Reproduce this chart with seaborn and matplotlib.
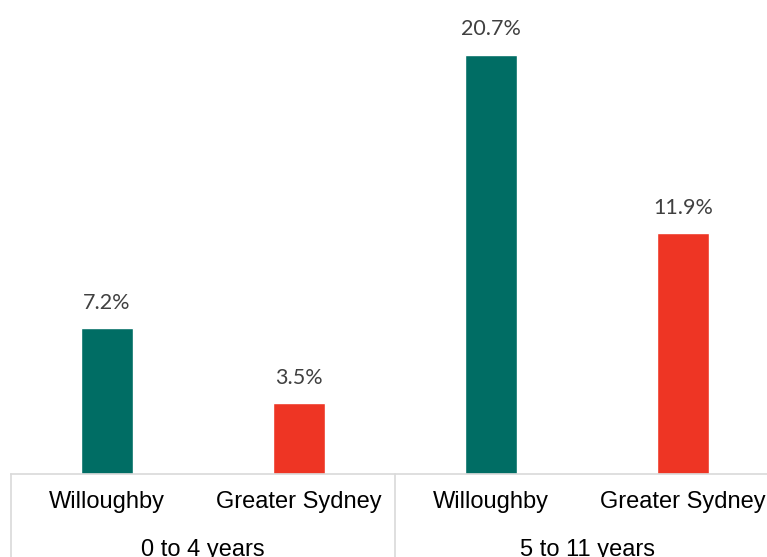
import pandas as pd
import matplotlib.pyplot as plt
import seaborn as sb

# Datos del grafico
grupos = ["0 to 4 years", "0 to 4 years", "5 to 11 years", "5 to 11 years"]
areas = ["Willoughby", "Greater Sydney", "Willoughby", "Greater Sydney"]
valores = [7.2, 3.5, 20.7, 11.9]
colores = {"Willoughby": "#006d64", "Greater Sydney": "#ee3524"}

df = pd.DataFrame({"grupo": grupos, "area": areas, "valor": valores})
df["slot"] = [f"{g} | {a}" for g, a in zip(grupos, areas)]

sb.set_style("white")
fig = plt.figure(figsize=(7.67, 5.57), dpi=100)
ax = fig.add_axes([11 / 767, 83 / 557, 768 / 767, 474 / 557])

sb.barplot(data=df, x="slot", y="valor", hue="area", palette=colores,
           dodge=False, width=0.275, saturation=1, legend=False, ax=ax)

for c in ax.containers:
    ax.bar_label(c, fmt="%.1f%%", padding=11, fontsize=15.5,
                 color="#404040", family="Lato")

ax.set_ylim(0, 23.4)
ax.set_xlim(-0.5, 3.5)
ax.set_yticks([])
ax.set_xticks([])
ax.set_xlabel("")
ax.set_ylabel("")
for s in ["top", "right", "left"]:
    ax.spines[s].set_visible(False)
ax.spines["bottom"].set_color("#d9d9d9")
ax.spines["bottom"].set_linewidth(1.2)

# etiquetas de categorias y grupos
tr = ax.get_xaxis_transform()
for i, a in enumerate(areas):
    ax.text(i, -0.06, a, transform=tr, ha="center", va="center",
            fontsize=17, family="Liberation Sans", color="black")
for j, g in enumerate(["0 to 4 years", "5 to 11 years"]):
    ax.text(2 * j + 0.5, -0.172, g, transform=tr, ha="center", va="baseline",
            fontsize=17, family="Liberation Sans", color="black")

# separadores verticales
for xs in [-0.5, 1.5, 3.5]:
    ax.plot([xs, xs], [0, -0.2], transform=tr, color="#d9d9d9",
            lw=1.2, clip_on=False)

fig.savefig("out.png", dpi=100)
